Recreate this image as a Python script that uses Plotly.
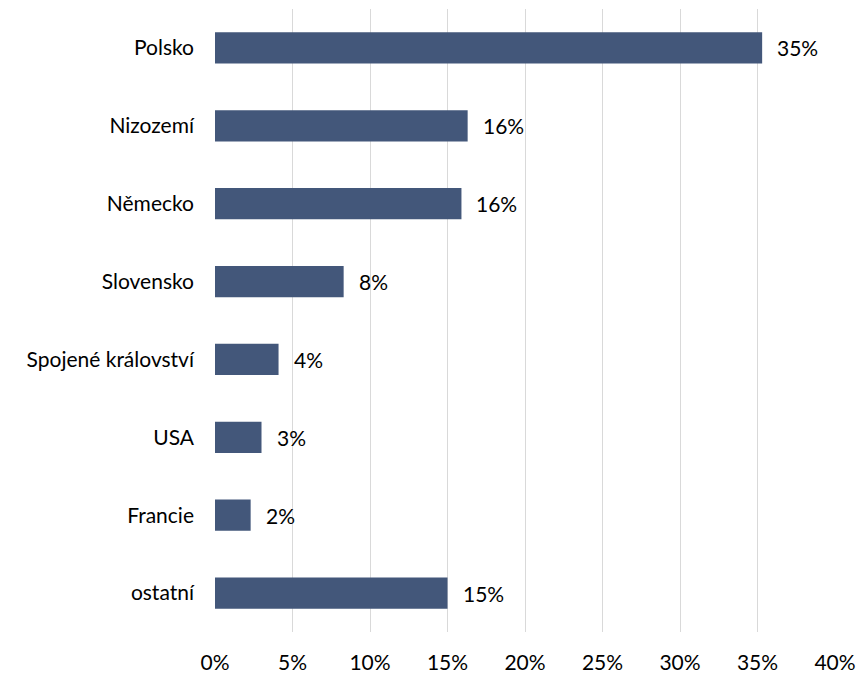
import plotly.graph_objects as go

categories = ["Polsko", "Nizozemí", "Německo", "Slovensko", "Spojené království", "USA", "Francie", "ostatní"]
values = [0.353, 0.163, 0.159, 0.083, 0.041, 0.030, 0.023, 0.150]
x_ticks = [0, 0.05, 0.10, 0.15, 0.20, 0.25, 0.30, 0.35, 0.40]
x_tick_labels = ["0%", "5%", "10%", "15%", "20%", "25%", "30%", "35%", "40%"]

FONT = "Lato"
FS = 21

fig = go.Figure()
fig.add_trace(go.Bar(
    x=values, y=categories, orientation="h",
    marker=dict(color="#43577a", line=dict(width=0)),
    width=0.4,
    hoverinfo="skip",
))

for c, v in zip(categories, values):
    fig.add_annotation(
        x=v, y=c, text=f"{round(v*100):.0f}%", showarrow=False,
        xanchor="left", yanchor="middle", xshift=13,
        font=dict(family=FONT, size=FS, color="#000000"),
    )

fig.update_layout(
    width=857, height=674,
    margin=dict(l=215, r=22, t=9, b=42, autoexpand=False),
    paper_bgcolor="white", plot_bgcolor="white",
    showlegend=False,
    font=dict(family=FONT, size=FS, color="#000000"),
    xaxis=dict(
        range=[0, 0.4], tickvals=x_ticks, ticktext=x_tick_labels,
        showgrid=True, gridcolor="#d9d9d9", gridwidth=1,
        zeroline=False, showline=False, ticks="",
        ticklabelstandoff=16, fixedrange=True, automargin=False,
    ),
    yaxis=dict(
        categoryorder="array", categoryarray=categories, autorange="reversed",
        showgrid=False, zeroline=False, showline=False, ticks="",
        ticklabelstandoff=20, automargin=False, fixedrange=True,
    ),
)

fig.write_html(
    "out.html",
    config={"displayModeBar": False, "staticPlot": True},
    post_script="document.body.style.margin='0';document.body.style.overflow='hidden';",
)
